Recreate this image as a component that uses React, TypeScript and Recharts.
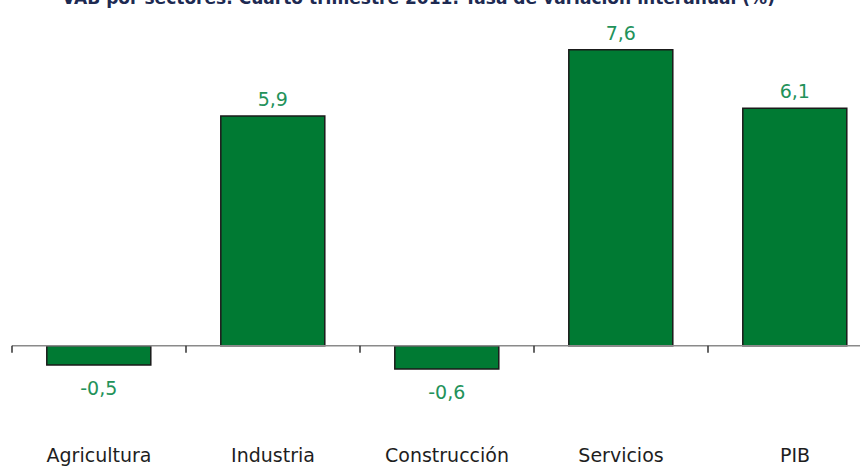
import { Bar, BarChart, LabelList, ReferenceLine, XAxis, YAxis } from 'recharts';

const sectors = ['Agricultura', 'Industria', 'Construcción', 'Servicios', 'PIB'];
const growth = [-0.5, 5.9, -0.6, 7.6, 6.1];
const title = 'VAB por sectores. Cuarto trimestre 2011. Tasa de variación interanual (%)';

const data = sectors.map((name, i) => ({ name, value: growth[i] }));

const FONT = '"DejaVu Sans", Verdana, sans-serif';
const LABEL_GREEN = '#22925a';

function ZeroAxis(props: any) {
  const { x1, y1, x2 } = props;
  const n = sectors.length;
  const step = (x2 - x1) / n;
  const ticks = Array.from({ length: n + 1 }, (_, i) => x1 + i * step);
  return (
    <g>
      <line x1={x1} y1={y1} x2={x2} y2={y1} stroke="#8a8a8a" strokeWidth={1.5} />
      {ticks.map((tx) => (
        <line key={tx} x1={tx} y1={y1} x2={tx} y2={y1 + 7} stroke="#333" strokeWidth={1.5} />
      ))}
    </g>
  );
}

function ValueLabel(props: any) {
  const { x, y, width, height, value } = props;
  const top = Math.min(y, y + height);
  const bottom = Math.max(y, y + height);
  const cy = value < 0 ? bottom + 23 : top - 17;
  return (
    <text
      x={x + width / 2}
      y={cy}
      textAnchor="middle"
      dominantBaseline="central"
      fill={LABEL_GREEN}
      fontFamily={FONT}
      fontSize={19}
    >
      {String(value).replace('.', ',')}
    </text>
  );
}

export default function App() {
  return (
    <div
      style={{
        position: 'fixed',
        left: 0,
        top: 0,
        width: 860,
        height: 467,
        overflow: 'hidden',
        background: '#fff',
      }}
    >
      <svg width={860} height={20} style={{ position: 'absolute', left: 0, top: 0 }}>
        <text
          x={62}
          y={4}
          textLength={713}
          lengthAdjust="spacingAndGlyphs"
          fill="#1d2a52"
          fontFamily={FONT}
          fontWeight="bold"
          fontSize={17}
        >
          {title}
        </text>
      </svg>
      <BarChart
        width={882}
        height={467}
        data={data}
        margin={{ top: 3, right: 0, left: 12, bottom: 0 }}
        barCategoryGap="20%"
      >
        <YAxis hide domain={[-2.5, 8.8]} allowDataOverflow />
        <XAxis
          dataKey="name"
          height={24}
          axisLine={false}
          tickLine={false}
          tickSize={0}
          tickMargin={6}
          interval={0}
          tick={{ fill: '#1e1e1e', fontFamily: FONT, fontSize: 19 }}
        />
        <ReferenceLine y={0} shape={ZeroAxis} />
        <Bar dataKey="value" fill="#007a33" stroke="#1a1a1a" strokeWidth={1.5} isAnimationActive={false}>
          <LabelList dataKey="value" content={ValueLabel} />
        </Bar>
      </BarChart>
    </div>
  );
}
